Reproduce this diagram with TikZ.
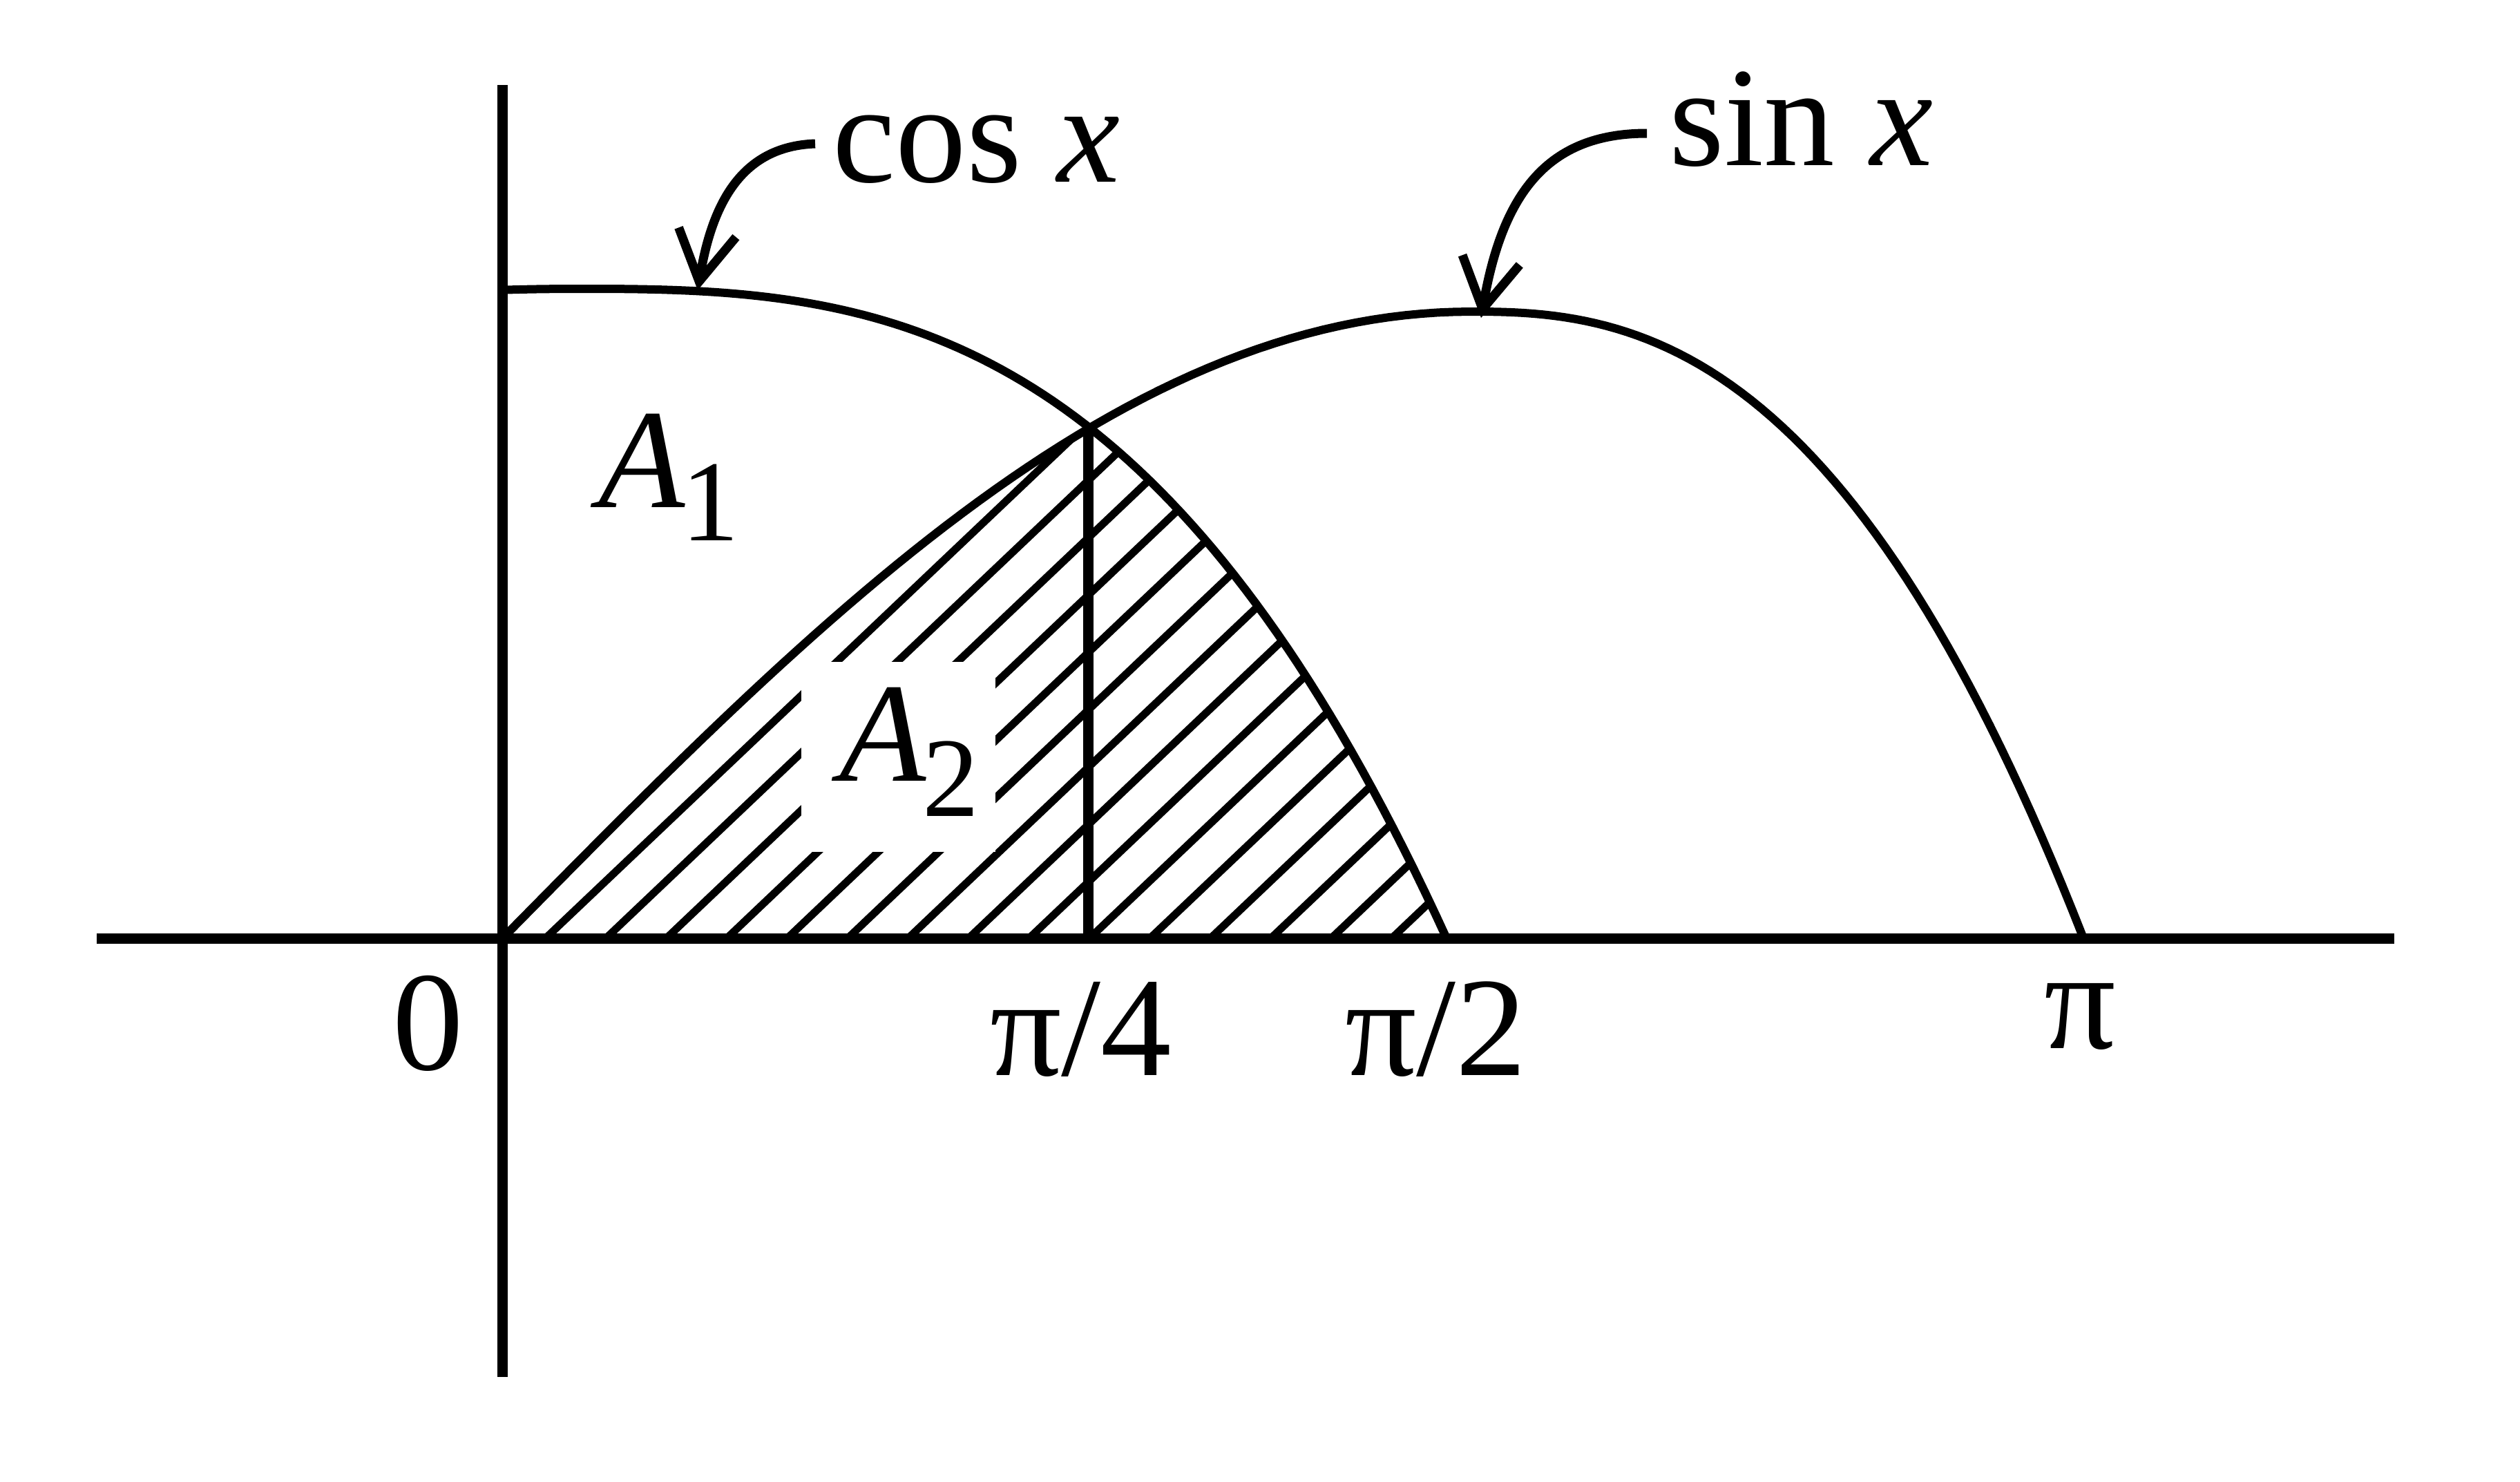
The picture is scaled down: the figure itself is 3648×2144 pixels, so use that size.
\documentclass[tikz,border=0pt]{standalone}
\usepackage{fontspec}
\setmainfont{Liberation Serif}
\usetikzlibrary{arrows.meta,calc}
\begin{document}
\begin{tikzpicture}[x=0.25pt,y=-0.25pt,
  axisline/.style={line width=3.75pt},
  curve/.style={line width=3pt,line join=round},
  hatchline/.style={line width=2.75pt},
  pointer/.style={line width=3.25pt,-{Straight Barb[length=18pt,width=21pt]}},
  lbl/.style={inner sep=0pt,font=\fontsize{51.25}{60}\selectfont}]
\useasboundingbox (0,0) rectangle (3648,2144);
% hatched region: below sin x and below cos x
\begin{scope}
  \clip plot[domain=0:1,samples=60] ({727.5+1402.5*\x},{1358-907*sin(90*\x)})
     -- plot[domain=0:1,samples=60] ({2130+886*\x},{451+907*\x*\x*sqrt(\x)}) -- cycle;
  \clip plot[domain=727.5:2094,samples=90] (\x,{418+940*(0.9*abs((\x-850)/1244)^3+0.1*((\x-850)/1244)^2)})
     -- (727.5,1358) -- cycle;
  \foreach \k in {0,...,15}
    \draw[hatchline] ({649.5+87.5*\k},1408) -- ++(1100,-1044);
\end{scope}
% label A2 on a white patch
\node[lbl,fill=white,minimum width=70.25pt,minimum height=68.75pt,text height=34pt,text depth=16.5pt] (A2) at (1300,1095)
  {\hspace*{8.2pt}\textit{A}\kern-1.6pt\raisebox{-12.75pt}{\fontsize{41}{41}\selectfont 2}};
% vertical line at pi/4
\coordinate (q) at (1575,619);
\coordinate (qb) at (1575,1358);
\draw[axisline] (q) -- (qb);
% curves
\draw[curve] plot[domain=0:1,samples=60] ({727.5+1402.5*\x},{1358-907*sin(90*\x)})
     -- plot[domain=0:1,samples=60] ({2130+886*\x},{451+907*\x*\x*sqrt(\x)});
\draw[curve] plot[domain=727.5:2094,samples=90] (\x,{418+940*(0.9*abs((\x-850)/1244)^3+0.1*((\x-850)/1244)^2)});
% axes
\coordinate (xl) at (140,1358);
\coordinate (xr) at (3466,1358);
\coordinate (yt) at (727.5,123);
\coordinate (yb) at (727.5,1993);
\draw[axisline] (xl) -- (xr);
\draw[axisline] (yt) -- (yb);
% curve labels with arrows
\node[lbl,anchor=base west] (cosl) at (1205,263) {cos \textit{x}};
\node[lbl,anchor=base west] (sinl) at (2416,239) {sin \textit{x}};
\coordinate (costip) at (1010,420);
\coordinate (sintip) at (2144,460);
\draw[pointer] ($(cosl.base west)+(-25,-55)$) .. controls +(-110,4) and +(20,-120) .. (costip);
\draw[pointer] ($(sinl.base west)+(-32,-46)$) .. controls +(-144,0) and +(31,-180) .. (sintip);
% area label A1
\node[lbl,anchor=base west] (A1) at (866,734) {\textit{A}\kern-1.6pt\raisebox{-12pt}{\fontsize{41.8}{42}\selectfont 1}};
% tick labels
\node[lbl,anchor=base] (l0) at (619.5,1548) {0};
\node[lbl,anchor=base] (l4) at (1564.5,1556) {π/4};
\node[lbl,anchor=base] (l2) at (2078.5,1556) {π/2};
\node[lbl,anchor=base] (lpi) at (3011.5,1517) {π};
\end{tikzpicture}
\end{document}
